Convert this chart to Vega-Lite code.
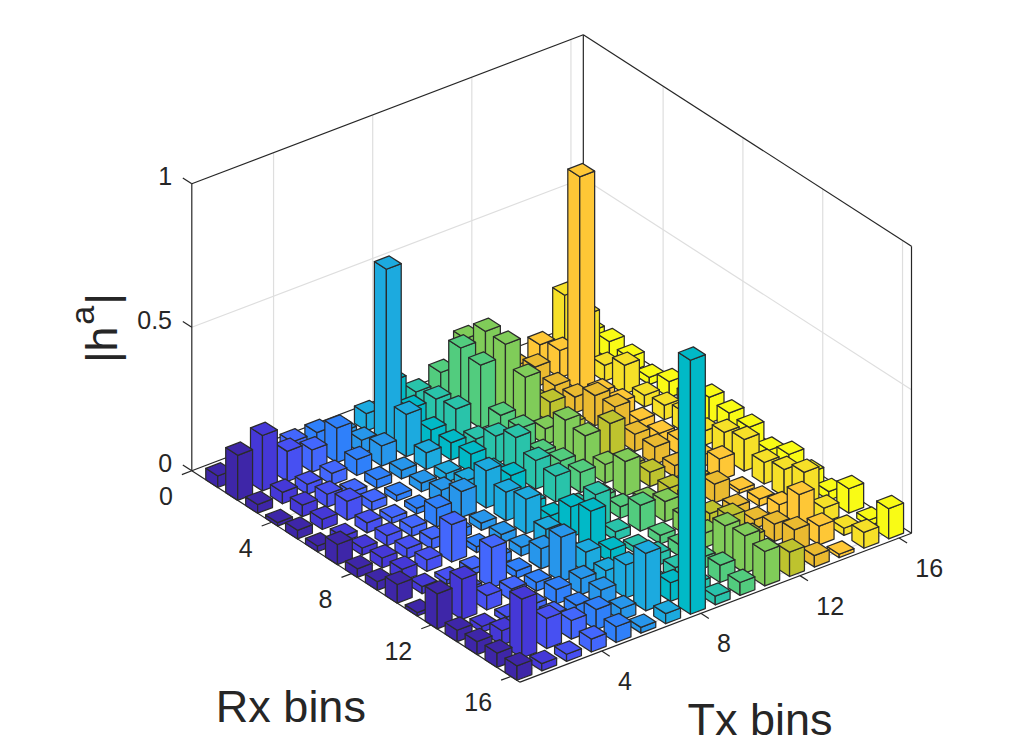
{"$schema":"https://vega.github.io/schema/vega-lite/v6.json","width":1011,"height":736,"padding":0,"autosize":{"type":"fit","contains":"padding"},"background":"white","view":{"stroke":null},"projection":{"type":"identity","scale":1,"translate":[0,0]},"datasets":{"lines":[
{"g":"grid","r0":0,"t0":0.7,"z0":0.5,"r1":0,"t1":16.5,"z1":0.5},{"g":"grid","r0":0,"t0":16.5,"z0":0.5,"r1":16.45,"t1":16.5,"z1":0.5},
{"g":"grid","r0":0,"t0":4,"z0":0,"r1":0,"t1":4,"z1":1},{"g":"grid","r0":0,"t0":8,"z0":0,"r1":0,"t1":8,"z1":1},{"g":"grid","r0":0,"t0":12,"z0":0,"r1":0,"t1":12,"z1":1},{"g":"grid","r0":0,"t0":16,"z0":0,"r1":0,"t1":16,"z1":1},
{"g":"grid","r0":4,"t0":16.5,"z0":0,"r1":4,"t1":16.5,"z1":1},{"g":"grid","r0":8,"t0":16.5,"z0":0,"r1":8,"t1":16.5,"z1":1},{"g":"grid","r0":12,"t0":16.5,"z0":0,"r1":12,"t1":16.5,"z1":1},{"g":"grid","r0":16,"t0":16.5,"z0":0,"r1":16,"t1":16.5,"z1":1},
{"g":"grid","r0":0,"t0":4,"z0":0,"r1":16.45,"t1":4,"z1":0},{"g":"grid","r0":0,"t0":8,"z0":0,"r1":16.45,"t1":8,"z1":0},{"g":"grid","r0":0,"t0":12,"z0":0,"r1":16.45,"t1":12,"z1":0},{"g":"grid","r0":0,"t0":16,"z0":0,"r1":16.45,"t1":16,"z1":0},
{"g":"grid","r0":4,"t0":0.7,"z0":0,"r1":4,"t1":16.5,"z1":0},{"g":"grid","r0":8,"t0":0.7,"z0":0,"r1":8,"t1":16.5,"z1":0},{"g":"grid","r0":12,"t0":0.7,"z0":0,"r1":12,"t1":16.5,"z1":0},{"g":"grid","r0":16,"t0":0.7,"z0":0,"r1":16,"t1":16.5,"z1":0},
{"g":"box","r0":0,"t0":0.7,"z0":0,"r1":0,"t1":0.7,"z1":1},{"g":"box","r0":0,"t0":0.7,"z0":1,"r1":0,"t1":16.5,"z1":1},{"g":"box","r0":0,"t0":16.5,"z0":1,"r1":16.45,"t1":16.5,"z1":1},{"g":"box","r0":16.45,"t0":16.5,"z0":0,"r1":16.45,"t1":16.5,"z1":1},{"g":"box","r0":0,"t0":16.5,"z0":0,"r1":0,"t1":16.5,"z1":1},
{"g":"box","r0":0,"t0":0.7,"z0":0,"r1":16.45,"t1":0.7,"z1":0},{"g":"box","r0":16.45,"t0":0.7,"z0":0,"r1":16.45,"t1":16.5,"z1":0},{"g":"box","r0":0,"t0":0.7,"z0":0,"r1":0,"t1":16.5,"z1":0},{"g":"box","r0":0,"t0":16.5,"z0":0,"r1":16.45,"t1":16.5,"z1":0},
{"g":"box","r0":0,"t0":0.7,"z0":0,"r1":-0.45,"t1":0.7,"z1":0},{"g":"box","r0":0,"t0":0.7,"z0":0.5,"r1":-0.45,"t1":0.7,"z1":0.5},{"g":"box","r0":0,"t0":0.7,"z0":1,"r1":-0.45,"t1":0.7,"z1":1},
{"g":"box","r0":0,"t0":0.7,"z0":0,"r1":0,"t1":0.3,"z1":0},{"g":"box","r0":4,"t0":0.7,"z0":0,"r1":4,"t1":0.3,"z1":0},{"g":"box","r0":8,"t0":0.7,"z0":0,"r1":8,"t1":0.3,"z1":0},{"g":"box","r0":12,"t0":0.7,"z0":0,"r1":12,"t1":0.3,"z1":0},{"g":"box","r0":16,"t0":0.7,"z0":0,"r1":16,"t1":0.3,"z1":0},
{"g":"box","r0":16.45,"t0":4,"z0":0,"r1":16.85,"t1":4,"z1":0},{"g":"box","r0":16.45,"t0":8,"z0":0,"r1":16.85,"t1":8,"z1":0},{"g":"box","r0":16.45,"t0":12,"z0":0,"r1":16.85,"t1":12,"z1":0},{"g":"box","r0":16.45,"t0":16,"z0":0,"r1":16.85,"t1":16,"z1":0}
],"labels":[
{"g":"z","label":"0","r":-0.7,"t":0.466,"z":0},{"g":"z","label":"0.5","r":-0.7,"t":0.466,"z":0.5},{"g":"z","label":"1","r":-0.7,"t":0.466,"z":1},
{"g":"rx","label":"0","r":0.95,"t":-0.83,"z":0},{"g":"rx","label":"4","r":4.95,"t":-0.83,"z":0},{"g":"rx","label":"8","r":8.95,"t":-0.83,"z":0},{"g":"rx","label":"12","r":12.95,"t":-0.83,"z":0},{"g":"rx","label":"16","r":16.95,"t":-0.83,"z":0},
{"g":"tx","label":"4","r":18.27,"t":3.19,"z":0},{"g":"tx","label":"8","r":18.27,"t":7.19,"z":0},{"g":"tx","label":"12","r":18.27,"t":11.19,"z":0},{"g":"tx","label":"16","r":18.27,"t":15.19,"z":0},
{"g":"title","label":"Rx bins","r":13.45,"t":-6.13,"z":0},{"g":"title","label":"Tx bins","r":22.82,"t":5.26,"z":0},
{"g":"ztitle","label":"|h","r":-4.45,"t":0.7,"z":0.24},{"g":"ztitle","label":"|","r":-4.45,"t":0.7,"z":0.4},{"g":"zsup","label":"a","r":-5.4,"t":0.7,"z":0.3}
],"bars":[
{"rx":1,"tx":16,"h":0.05},{"rx":1,"tx":15,"h":0.21},{"rx":1,"tx":14,"h":0.07},{"rx":1,"tx":13,"h":0.03},{"rx":1,"tx":12,"h":0.05},{"rx":1,"tx":11,"h":0.19},{"rx":1,"tx":10,"h":0.105},{"rx":1,"tx":9,"h":0.07},{"rx":1,"tx":8,"h":0.14},{"rx":1,"tx":7,"h":0.06},{"rx":1,"tx":6,"h":0.03},{"rx":1,"tx":5,"h":0.06},{"rx":1,"tx":4,"h":0.06},{"rx":1,"tx":3,"h":0.03},{"rx":1,"tx":2,"h":0.02},{"rx":1,"tx":1,"h":0.04},
{"rx":2,"tx":16,"h":0.06},{"rx":2,"tx":15,"h":0.185},{"rx":2,"tx":14,"h":0.095},{"rx":2,"tx":13,"h":0.07},{"rx":2,"tx":12,"h":0.04},{"rx":2,"tx":11,"h":0.26},{"rx":2,"tx":10,"h":0.235},{"rx":2,"tx":9,"h":0.09},{"rx":2,"tx":8,"h":0.09},{"rx":2,"tx":7,"h":0.608},{"rx":2,"tx":6,"h":0.045},{"rx":2,"tx":5,"h":0.12},{"rx":2,"tx":4,"h":0.077},{"rx":2,"tx":3,"h":0.105},{"rx":2,"tx":2,"h":0.193},{"rx":2,"tx":1,"h":0.157},
{"rx":3,"tx":16,"h":0.05},{"rx":3,"tx":15,"h":0.055},{"rx":3,"tx":14,"h":0.745},{"rx":3,"tx":13,"h":0.05},{"rx":3,"tx":12,"h":0.04},{"rx":3,"tx":11,"h":0.26},{"rx":3,"tx":10,"h":0.22},{"rx":3,"tx":9,"h":0.1},{"rx":3,"tx":8,"h":0.06},{"rx":3,"tx":7,"h":0.147},{"rx":3,"tx":6,"h":0.07},{"rx":3,"tx":5,"h":0.055},{"rx":3,"tx":4,"h":0.04},{"rx":3,"tx":3,"h":0.035},{"rx":3,"tx":2,"h":0.04},{"rx":3,"tx":1,"h":0.03},
{"rx":4,"tx":16,"h":0.025},{"rx":4,"tx":15,"h":0.1},{"rx":4,"tx":14,"h":0.04},{"rx":4,"tx":13,"h":0.055},{"rx":4,"tx":12,"h":0.07},{"rx":4,"tx":11,"h":0.19},{"rx":4,"tx":10,"h":0.09},{"rx":4,"tx":9,"h":0.04},{"rx":4,"tx":8,"h":0.06},{"rx":4,"tx":7,"h":0.058},{"rx":4,"tx":6,"h":0.03},{"rx":4,"tx":5,"h":0.03},{"rx":4,"tx":4,"h":0.02},{"rx":4,"tx":3,"h":0.045},{"rx":4,"tx":2,"h":0.04},{"rx":4,"tx":1,"h":0.012},
{"rx":5,"tx":16,"h":0.055},{"rx":5,"tx":15,"h":0.04},{"rx":5,"tx":14,"h":0.05},{"rx":5,"tx":13,"h":0.105},{"rx":5,"tx":12,"h":0.04},{"rx":5,"tx":11,"h":0.055},{"rx":5,"tx":10,"h":0.09},{"rx":5,"tx":9,"h":0.095},{"rx":5,"tx":8,"h":0.065},{"rx":5,"tx":7,"h":0.03},{"rx":5,"tx":6,"h":0.03},{"rx":5,"tx":5,"h":0.02},{"rx":5,"tx":4,"h":0.03},{"rx":5,"tx":3,"h":0.065},{"rx":5,"tx":2,"h":0.035},{"rx":5,"tx":1,"h":0.03},
{"rx":6,"tx":16,"h":0.05},{"rx":6,"tx":15,"h":0.05},{"rx":6,"tx":14,"h":0.03},{"rx":6,"tx":13,"h":0.11},{"rx":6,"tx":12,"h":0.03},{"rx":6,"tx":11,"h":0.13},{"rx":6,"tx":10,"h":0.05},{"rx":6,"tx":9,"h":0.135},{"rx":6,"tx":8,"h":0.05},{"rx":6,"tx":7,"h":0.05},{"rx":6,"tx":6,"h":0.05},{"rx":6,"tx":5,"h":0.02},{"rx":6,"tx":4,"h":0.02},{"rx":6,"tx":3,"h":0.035},{"rx":6,"tx":2,"h":0.02},{"rx":6,"tx":1,"h":0.02},
{"rx":7,"tx":16,"h":0.09},{"rx":7,"tx":15,"h":0.07},{"rx":7,"tx":14,"h":0.03},{"rx":7,"tx":13,"h":0.06},{"rx":7,"tx":12,"h":0.13},{"rx":7,"tx":11,"h":0.12},{"rx":7,"tx":10,"h":0.065},{"rx":7,"tx":9,"h":0.1},{"rx":7,"tx":8,"h":0.08},{"rx":7,"tx":7,"h":0.13},{"rx":7,"tx":6,"h":0.09},{"rx":7,"tx":5,"h":0.065},{"rx":7,"tx":4,"h":0.03},{"rx":7,"tx":3,"h":0.035},{"rx":7,"tx":2,"h":0.025},{"rx":7,"tx":1,"h":0.07},
{"rx":8,"tx":16,"h":0.08},{"rx":8,"tx":15,"h":0.05},{"rx":8,"tx":14,"h":0.05},{"rx":8,"tx":13,"h":0.06},{"rx":8,"tx":12,"h":0.03},{"rx":8,"tx":11,"h":0.065},{"rx":8,"tx":10,"h":0.07},{"rx":8,"tx":9,"h":0.09},{"rx":8,"tx":8,"h":0.03},{"rx":8,"tx":7,"h":0.1},{"rx":8,"tx":6,"h":0.025},{"rx":8,"tx":5,"h":0.03},{"rx":8,"tx":4,"h":0.035},{"rx":8,"tx":3,"h":0.035},{"rx":8,"tx":2,"h":0.035},{"rx":8,"tx":1,"h":0.03},
{"rx":9,"tx":16,"h":0.075},{"rx":9,"tx":15,"h":0.09},{"rx":9,"tx":14,"h":0.04},{"rx":9,"tx":13,"h":0.04},{"rx":9,"tx":12,"h":0.05},{"rx":9,"tx":11,"h":0.12},{"rx":9,"tx":10,"h":0.03},{"rx":9,"tx":9,"h":0.03},{"rx":9,"tx":8,"h":0.03},{"rx":9,"tx":7,"h":0.12},{"rx":9,"tx":6,"h":0.03},{"rx":9,"tx":5,"h":0.02},{"rx":9,"tx":4,"h":0.13},{"rx":9,"tx":3,"h":0.04},{"rx":9,"tx":2,"h":0.04},{"rx":9,"tx":1,"h":0.03},
{"rx":10,"tx":16,"h":0.04},{"rx":10,"tx":15,"h":0.11},{"rx":10,"tx":14,"h":0.075},{"rx":10,"tx":13,"h":0.04},{"rx":10,"tx":12,"h":0.04},{"rx":10,"tx":11,"h":0.03},{"rx":10,"tx":10,"h":0.04},{"rx":10,"tx":9,"h":0.115},{"rx":10,"tx":8,"h":0.105},{"rx":10,"tx":7,"h":0.06},{"rx":10,"tx":6,"h":0.03},{"rx":10,"tx":5,"h":0.03},{"rx":10,"tx":4,"h":0.02},{"rx":10,"tx":3,"h":0.015},{"rx":10,"tx":2,"h":0.025},{"rx":10,"tx":1,"h":0.065},
{"rx":11,"tx":16,"h":0.07},{"rx":11,"tx":15,"h":0.075},{"rx":11,"tx":14,"h":0.012},{"rx":11,"tx":13,"h":0.065},{"rx":11,"tx":12,"h":0.05},{"rx":11,"tx":11,"h":0.07},{"rx":11,"tx":10,"h":0.09},{"rx":11,"tx":9,"h":0.03},{"rx":11,"tx":8,"h":0.135},{"rx":11,"tx":7,"h":0.03},{"rx":11,"tx":6,"h":0.07},{"rx":11,"tx":5,"h":0.025},{"rx":11,"tx":4,"h":0.14},{"rx":11,"tx":3,"h":0.03},{"rx":11,"tx":2,"h":0.02},{"rx":11,"tx":1,"h":0.012},
{"rx":12,"tx":16,"h":0.05},{"rx":12,"tx":15,"h":0.095},{"rx":12,"tx":14,"h":0.025},{"rx":12,"tx":13,"h":0.03},{"rx":12,"tx":12,"h":0.04},{"rx":12,"tx":11,"h":0.06},{"rx":12,"tx":10,"h":0.03},{"rx":12,"tx":9,"h":0.02},{"rx":12,"tx":8,"h":0.045},{"rx":12,"tx":7,"h":0.07},{"rx":12,"tx":6,"h":0.155},{"rx":12,"tx":5,"h":0.03},{"rx":12,"tx":4,"h":0.04},{"rx":12,"tx":3,"h":0.05},{"rx":12,"tx":2,"h":0.14},{"rx":12,"tx":1,"h":0.122},
{"rx":13,"tx":16,"h":0.03},{"rx":13,"tx":15,"h":0.13},{"rx":13,"tx":14,"h":0.05},{"rx":13,"tx":13,"h":0.03},{"rx":13,"tx":12,"h":0.075},{"rx":13,"tx":11,"h":0.05},{"rx":13,"tx":10,"h":0.04},{"rx":13,"tx":9,"h":0.04},{"rx":13,"tx":8,"h":0.03},{"rx":13,"tx":7,"h":0.05},{"rx":13,"tx":6,"h":0.055},{"rx":13,"tx":5,"h":0.05},{"rx":13,"tx":4,"h":0.03},{"rx":13,"tx":3,"h":0.02},{"rx":13,"tx":2,"h":0.02},{"rx":13,"tx":1,"h":0.04},
{"rx":14,"tx":16,"h":0.085},{"rx":14,"tx":15,"h":0.05},{"rx":14,"tx":14,"h":0.13},{"rx":14,"tx":13,"h":0.06},{"rx":14,"tx":12,"h":0.05},{"rx":14,"tx":11,"h":0.12},{"rx":14,"tx":10,"h":0.04},{"rx":14,"tx":9,"h":0.04},{"rx":14,"tx":8,"h":0.03},{"rx":14,"tx":7,"h":0.115},{"rx":14,"tx":6,"h":0.06},{"rx":14,"tx":5,"h":0.04},{"rx":14,"tx":4,"h":0.04},{"rx":14,"tx":3,"h":0.03},{"rx":14,"tx":2,"h":0.05},{"rx":14,"tx":1,"h":0.045},
{"rx":15,"tx":16,"h":0.02},{"rx":15,"tx":15,"h":0.025},{"rx":15,"tx":14,"h":0.065},{"rx":15,"tx":13,"h":0.085},{"rx":15,"tx":12,"h":0.03},{"rx":15,"tx":11,"h":0.13},{"rx":15,"tx":10,"h":0.06},{"rx":15,"tx":9,"h":0.03},{"rx":15,"tx":8,"h":0.065},{"rx":15,"tx":7,"h":0.2},{"rx":15,"tx":6,"h":0.04},{"rx":15,"tx":5,"h":0.07},{"rx":15,"tx":4,"h":0.065},{"rx":15,"tx":3,"h":0.105},{"rx":15,"tx":2,"h":0.205},{"rx":15,"tx":1,"h":0.05},
{"rx":16,"tx":16,"h":0.105},{"rx":16,"tx":15,"h":0.055},{"rx":16,"tx":14,"h":0.012},{"rx":16,"tx":13,"h":0.04},{"rx":16,"tx":12,"h":0.085},{"rx":16,"tx":11,"h":0.12},{"rx":16,"tx":10,"h":0.045},{"rx":16,"tx":9,"h":0.03},{"rx":16,"tx":8,"h":0.885},{"rx":16,"tx":7,"h":0.035},{"rx":16,"tx":6,"h":0.02},{"rx":16,"tx":5,"h":0.055},{"rx":16,"tx":4,"h":0.045},{"rx":16,"tx":3,"h":0.025},{"rx":16,"tx":2,"h":0.025},{"rx":16,"tx":1,"h":0.05}
]},"layer":[
{"data":{"name":"lines"},"transform":[{"filter":"datum.g==='grid'"},{"calculate":"{type:'LineString',coordinates:[[191.8+19.95*datum.r0+24.78*(datum.t0-0.7),470.8+12.85*datum.r0-9.43*(datum.t0-0.7)-287*datum.z0],[191.8+19.95*datum.r1+24.78*(datum.t1-0.7),470.8+12.85*datum.r1-9.43*(datum.t1-0.7)-287*datum.z1]]}","as":"geo"}],"mark":{"type":"geoshape","filled":false,"stroke":"#dedede","strokeWidth":1.2},"encoding":{"shape":{"field":"geo","type":"geojson"}}},
{"data":{"name":"lines"},"transform":[{"filter":"datum.g==='box'"},{"calculate":"{type:'LineString',coordinates:[[191.8+19.95*datum.r0+24.78*(datum.t0-0.7),470.8+12.85*datum.r0-9.43*(datum.t0-0.7)-287*datum.z0],[191.8+19.95*datum.r1+24.78*(datum.t1-0.7),470.8+12.85*datum.r1-9.43*(datum.t1-0.7)-287*datum.z1]]}","as":"geo"}],"mark":{"type":"geoshape","filled":false,"stroke":"#262626","strokeWidth":1.2},"encoding":{"shape":{"field":"geo","type":"geojson"}}},
{"data":{"name":"bars"},"transform":[
{"calculate":"191.8+19.95*(datum.rx+0.3)+24.78*(datum.tx-1)","as":"bx"},
{"calculate":"470.8+12.85*(datum.rx+0.3)-9.43*(datum.tx-1)","as":"by"},
{"calculate":"287*datum.h","as":"L"},
{"calculate":"{type:'Polygon',coordinates:[[[datum.bx-11.97,datum.by-7.71],[datum.bx,datum.by],[datum.bx,datum.by-datum.L],[datum.bx-11.97,datum.by-7.71-datum.L],[datum.bx-11.97,datum.by-7.71]]]}","as":"faceLeft"},
{"calculate":"{type:'Polygon',coordinates:[[[datum.bx,datum.by],[datum.bx+14.87,datum.by-5.66],[datum.bx+14.87,datum.by-5.66-datum.L],[datum.bx,datum.by-datum.L],[datum.bx,datum.by]]]}","as":"faceRight"},
{"calculate":"{type:'Polygon',coordinates:[[[datum.bx,datum.by-datum.L],[datum.bx+14.87,datum.by-5.66-datum.L],[datum.bx+2.9,datum.by-13.37-datum.L],[datum.bx-11.97,datum.by-7.71-datum.L],[datum.bx,datum.by-datum.L]]]}","as":"faceTop"},
{"fold":["faceLeft","faceRight","faceTop"],"as":["face","geo"]}],
"mark":{"type":"geoshape","stroke":"#2b2b2b","strokeWidth":1.25,"strokeJoin":"round"},
"encoding":{"shape":{"field":"geo","type":"geojson"},"color":{"field":"tx","type":"ordinal","legend":null,"scale":{"domain":[1,2,3,4,5,6,7,8,9,10,11,12,13,14,15,16],"range":["#3E26A8","#4538D7","#4750F2","#4367FD","#2F80FA","#2796EB","#1CAADF","#01B9C7","#29C3AA","#52CC7E","#80CC59","#BEC32E","#EABA30","#FEC736","#F6E028","#F9FB15"]}}}},
{"data":{"name":"labels"},"transform":[{"filter":"datum.g==='z'||datum.g==='rx'"},{"calculate":"191.8+19.95*datum.r+24.78*(datum.t-0.7)","as":"px"},{"calculate":"470.8+12.85*datum.r-9.43*(datum.t-0.7)-287*datum.z","as":"py"}],"mark":{"type":"text","font":"Liberation Sans","fontSize":25,"fill":"#262626","align":"right","baseline":"middle"},"encoding":{"longitude":{"field":"px","type":"quantitative"},"latitude":{"field":"py","type":"quantitative"},"text":{"field":"label"}}},
{"data":{"name":"labels"},"transform":[{"filter":"datum.g==='tx'"},{"calculate":"191.8+19.95*datum.r+24.78*(datum.t-0.7)","as":"px"},{"calculate":"470.8+12.85*datum.r-9.43*(datum.t-0.7)-287*datum.z","as":"py"}],"mark":{"type":"text","font":"Liberation Sans","fontSize":25,"fill":"#262626","align":"left","baseline":"middle"},"encoding":{"longitude":{"field":"px","type":"quantitative"},"latitude":{"field":"py","type":"quantitative"},"text":{"field":"label"}}},
{"data":{"name":"labels"},"transform":[{"filter":"datum.g==='title'"},{"calculate":"191.8+19.95*datum.r+24.78*(datum.t-0.7)","as":"px"},{"calculate":"470.8+12.85*datum.r-9.43*(datum.t-0.7)-287*datum.z","as":"py"}],"mark":{"type":"text","font":"Liberation Sans","fontSize":45,"fill":"#262626","align":"center","baseline":"middle"},"encoding":{"longitude":{"field":"px","type":"quantitative"},"latitude":{"field":"py","type":"quantitative"},"text":{"field":"label"}}},
{"data":{"name":"labels"},"transform":[{"filter":"datum.g==='ztitle'"},{"calculate":"191.8+19.95*datum.r+24.78*(datum.t-0.7)","as":"px"},{"calculate":"470.8+12.85*datum.r-9.43*(datum.t-0.7)-287*datum.z","as":"py"}],"mark":{"type":"text","font":"Liberation Sans","fontSize":45,"fill":"#262626","align":"center","baseline":"middle","angle":270},"encoding":{"longitude":{"field":"px","type":"quantitative"},"latitude":{"field":"py","type":"quantitative"},"text":{"field":"label"}}},
{"data":{"name":"labels"},"transform":[{"filter":"datum.g==='zsup'"},{"calculate":"191.8+19.95*datum.r+24.78*(datum.t-0.7)","as":"px"},{"calculate":"470.8+12.85*datum.r-9.43*(datum.t-0.7)-287*datum.z","as":"py"}],"mark":{"type":"text","font":"Liberation Sans","fontSize":34,"fill":"#262626","align":"center","baseline":"middle","angle":270},"encoding":{"longitude":{"field":"px","type":"quantitative"},"latitude":{"field":"py","type":"quantitative"},"text":{"field":"label"}}}
]}
